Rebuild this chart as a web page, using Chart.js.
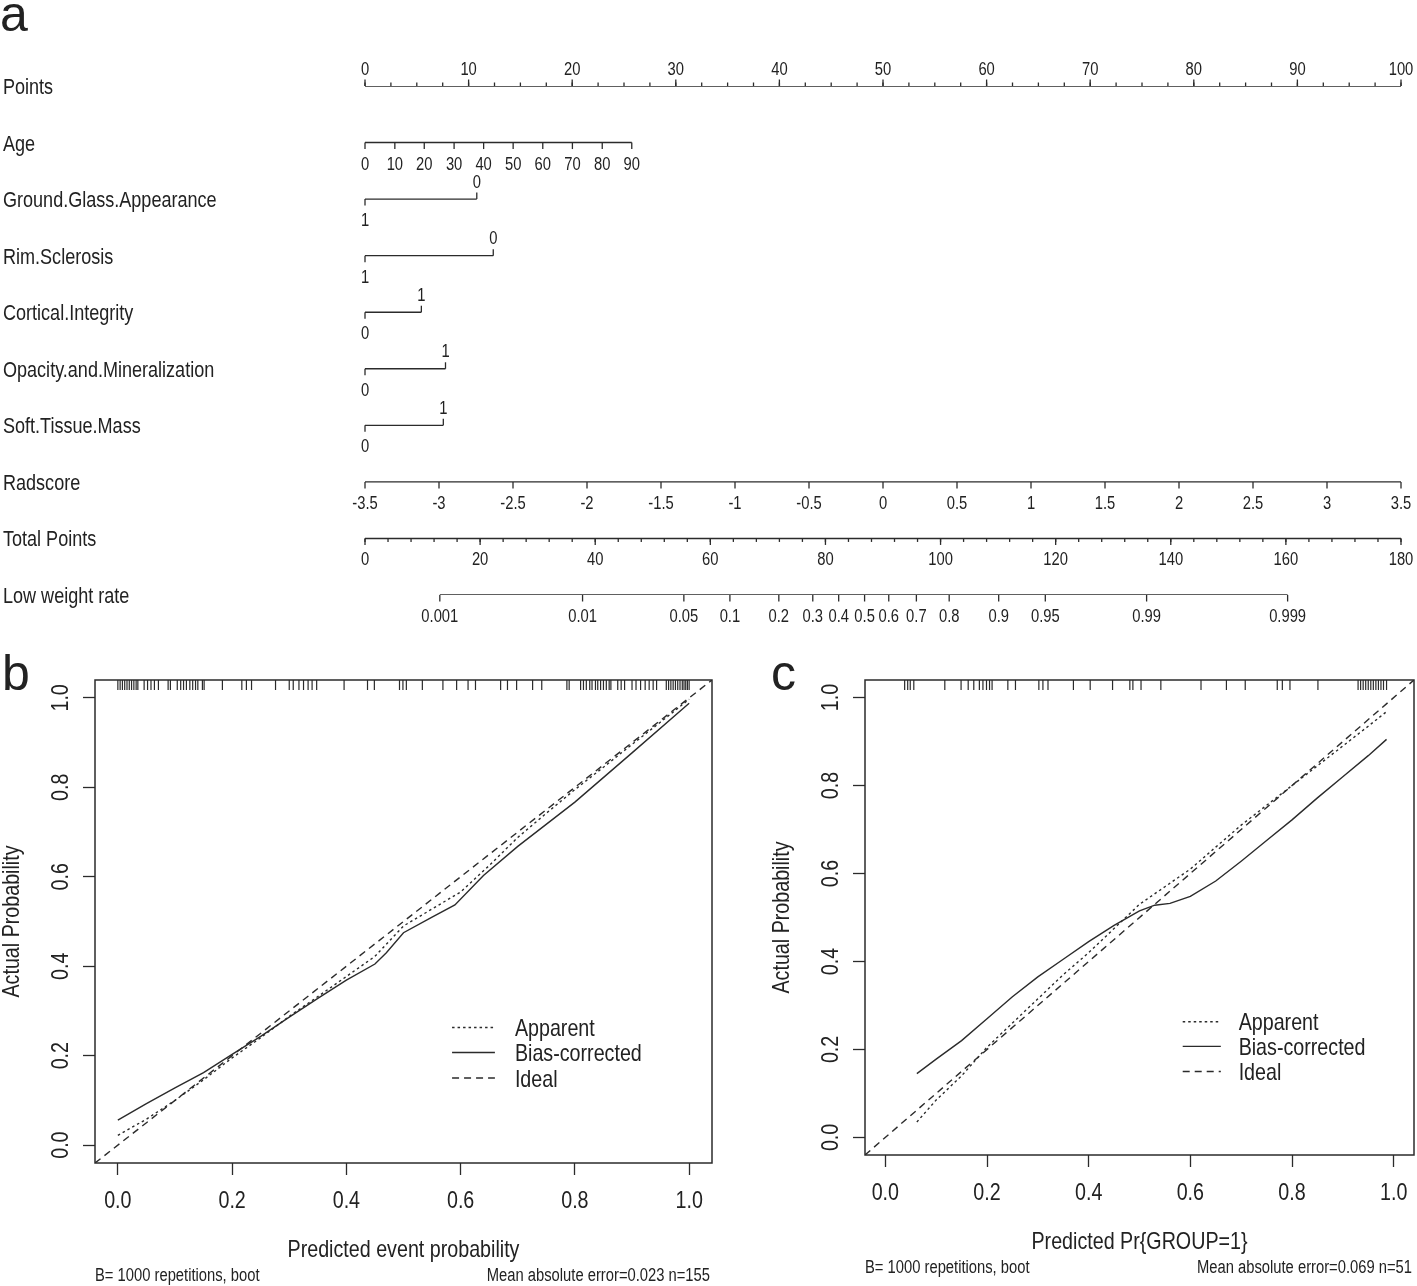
<!DOCTYPE html>
<html>
<head>
<meta charset="utf-8">
<script src="https://cdn.jsdelivr.net/npm/chart.js@4.4.1/dist/chart.umd.min.js"></script>
<style>
  html, body { margin: 0; padding: 0; background: #fff; }
  #fig { position: relative; width: 1417px; height: 1286px; overflow: hidden; background: #fff; }
  canvas { position: absolute; }
</style>
</head>
<body>
<div id="fig">
  <canvas id="nomo" width="1417" height="650" style="left:0;top:0"></canvas>
  <canvas id="calB" width="720" height="636" style="left:0;top:650px"></canvas>
  <canvas id="calC" width="657" height="636" style="left:760px;top:650px"></canvas>
</div>
<script>
// ---------- panel a: nomogram ----------
const rowNames = ['Points', 'Age', 'Ground.Glass.Appearance', 'Rim.Sclerosis', 'Cortical.Integrity',
  'Opacity.and.Mineralization', 'Soft.Tissue.Mass', 'Radscore', 'Total Points', 'Low weight rate'];

const pointsLabels = ['0', '10', '20', '30', '40', '50', '60', '70', '80', '90', '100'];
const pointsValues = [0, 10, 20, 30, 40, 50, 60, 70, 80, 90, 100];
const ageLabels = ['0', '10', '20', '30', '40', '50', '60', '70', '80', '90'];
const agePoints = [0, 2.88, 5.72, 8.6, 11.45, 14.3, 17.16, 20.02, 22.9, 25.75];
const ggaLabels = ['1', '0'];
const ggaPoints = [0, 10.79];
const rimLabels = ['1', '0'];
const rimPoints = [0, 12.38];
const cortLabels = ['0', '1'];
const cortPoints = [0, 5.44];
const opacLabels = ['0', '1'];
const opacPoints = [0, 7.77];
const softLabels = ['0', '1'];
const softPoints = [0, 7.56];
const radLabels = ['-3.5', '-3', '-2.5', '-2', '-1.5', '-1', '-0.5', '0', '0.5', '1', '1.5', '2', '2.5', '3', '3.5'];
const radValues = [-3.5, -3, -2.5, -2, -1.5, -1, -0.5, 0, 0.5, 1, 1.5, 2, 2.5, 3, 3.5];
const totalLabels = ['0', '20', '40', '60', '80', '100', '120', '140', '160', '180'];
const totalValues = [0, 20, 40, 60, 80, 100, 120, 140, 160, 180];
const riskLabels = ['0.001', '0.01', '0.05', '0.1', '0.2', '0.3', '0.4', '0.5', '0.6', '0.7', '0.8', '0.9', '0.95', '0.99', '0.999'];
const riskTotals = [13.0, 37.8, 55.4, 63.4, 71.9, 77.8, 82.3, 86.8, 91.0, 95.8, 101.5, 110.1, 118.2, 135.8, 160.3];

// ---------- panels b, c: calibration ----------
const probTicks = [0, 0.2, 0.4, 0.6, 0.8, 1.0];
const idealLine = [-0.04, 1.04];

const bAppX = [0, 0.05, 0.1, 0.15, 0.2, 0.25, 0.3, 0.35, 0.4, 0.45, 0.5, 0.55, 0.6, 0.65, 0.7, 0.75, 0.8, 0.85, 0.9, 0.95, 1.0];
const bAppY = [0.022, 0.058, 0.1, 0.146, 0.195, 0.24, 0.288, 0.332, 0.377, 0.422, 0.49, 0.528, 0.566, 0.625, 0.688, 0.742, 0.795, 0.845, 0.896, 0.946, 0.997];
const bBiasX = [0, 0.05, 0.1, 0.15, 0.2, 0.25, 0.3, 0.35, 0.4, 0.45, 0.47, 0.5, 0.55, 0.59, 0.64, 0.7, 0.8, 0.9, 1.0];
const bBiasY = [0.056, 0.093, 0.128, 0.162, 0.203, 0.243, 0.286, 0.328, 0.369, 0.405, 0.43, 0.475, 0.51, 0.537, 0.603, 0.668, 0.767, 0.877, 0.988];
const bRug = [0, 0.004, 0.008, 0.012, 0.016, 0.02, 0.024, 0.028, 0.032, 0.035, 0.046, 0.052, 0.058, 0.064, 0.071,
  0.088, 0.092, 0.104, 0.11, 0.115, 0.12, 0.126, 0.131, 0.136, 0.14, 0.148, 0.151, 0.183, 0.217, 0.225, 0.234,
  0.276, 0.3, 0.307, 0.317, 0.325, 0.333, 0.34, 0.348, 0.396, 0.437, 0.449, 0.493, 0.499, 0.505, 0.533, 0.569,
  0.593, 0.613, 0.626, 0.67, 0.682, 0.698, 0.726, 0.742, 0.786, 0.79, 0.81, 0.815, 0.82, 0.826, 0.83, 0.836,
  0.84, 0.845, 0.85, 0.855, 0.86, 0.863, 0.875, 0.881, 0.887, 0.9, 0.907, 0.915, 0.923, 0.93, 0.937, 0.943,
  0.96, 0.964, 0.968, 0.972, 0.976, 0.98, 0.984, 0.988, 0.991, 0.994, 0.997, 1.0];

const cAppX = [0.062, 0.1, 0.15, 0.2, 0.25, 0.3, 0.35, 0.4, 0.45, 0.5, 0.55, 0.6, 0.65, 0.7, 0.75, 0.8, 0.85, 0.9, 0.95, 0.986];
const cAppY = [0.035, 0.085, 0.14, 0.205, 0.26, 0.315, 0.37, 0.42, 0.475, 0.53, 0.57, 0.61, 0.66, 0.71, 0.755, 0.8, 0.845, 0.89, 0.935, 0.968];
const cBiasX = [0.062, 0.1, 0.15, 0.2, 0.25, 0.3, 0.35, 0.4, 0.45, 0.5, 0.53, 0.56, 0.6, 0.65, 0.7, 0.75, 0.8, 0.85, 0.9, 0.95, 0.986];
const cBiasY = [0.145, 0.178, 0.22, 0.27, 0.32, 0.365, 0.405, 0.445, 0.482, 0.515, 0.528, 0.532, 0.548, 0.583, 0.628, 0.675, 0.722, 0.772, 0.82, 0.868, 0.905];
const cRug = [0.038, 0.044, 0.049, 0.056, 0.117, 0.149, 0.163, 0.174, 0.185, 0.192, 0.199, 0.205, 0.21, 0.241, 0.256,
  0.302, 0.31, 0.32, 0.37, 0.403, 0.447, 0.481, 0.487, 0.503, 0.542, 0.621, 0.671, 0.708, 0.771, 0.781, 0.796,
  0.851, 0.93, 0.935, 0.94, 0.945, 0.95, 0.955, 0.96, 0.965, 0.97, 0.975, 0.98, 0.986];

const legendRows = [0.263, 0.207, 0.150];

const INK = '#222';
const LINE = '#2b2b2b';
const PLAIN = "'Liberation Sans', Arial, sans-serif";

// the original uses a condensed Arial; fall back to squeezing Liberation Sans
let NARROW = "'Liberation Sans Narrow', 'Arial Narrow'", SX = 1;
(function () {
  const c = document.createElement('canvas').getContext('2d');
  const s = 'Bias-corrected 0.023';
  c.font = '40px monospace';
  const w1 = c.measureText(s).width;
  c.font = "40px 'Liberation Sans Narrow', monospace";
  const w2 = c.measureText(s).width;
  if (Math.abs(w1 - w2) < 0.5) { NARROW = PLAIN; SX = 0.82; }
})();

function put(ctx, s, x, y, size, align, rot, family, sx) {
  ctx.save();
  ctx.translate(x, y);
  if (rot) ctx.rotate(rot);
  ctx.scale(sx === undefined ? SX : sx, 1);
  ctx.font = size + 'px ' + (family || NARROW);
  ctx.textAlign = align || 'center';
  ctx.textBaseline = 'alphabetic';
  ctx.fillStyle = INK;
  ctx.fillText(s, 0, 0);
  ctx.restore();
}

const rows = [
  { labels: pointsLabels, at: pointsValues, axis: 'x', side: 'up', minorStep: 2.5 },
  { labels: ageLabels, at: agePoints, axis: 'x', side: 'down' },
  { labels: ggaLabels, at: ggaPoints, axis: 'x', side: 'split' },
  { labels: rimLabels, at: rimPoints, axis: 'x', side: 'split' },
  { labels: cortLabels, at: cortPoints, axis: 'x', side: 'split' },
  { labels: opacLabels, at: opacPoints, axis: 'x', side: 'split' },
  { labels: softLabels, at: softPoints, axis: 'x', side: 'split' },
  { labels: radLabels, at: radValues, axis: 'xr', side: 'down' },
  { labels: totalLabels, at: totalValues, axis: 'xt', side: 'down', minorStep: 4 },
  { labels: riskLabels, at: riskTotals, axis: 'xt', side: 'down' }
];

const nomoDecor = {
  id: 'nomoDecor',
  afterDatasetsDraw(chart) {
    const ctx = chart.ctx;
    const ys = chart.scales.y;
    ctx.save();
    ctx.strokeStyle = LINE;
    ctx.lineWidth = 1.3;
    rows.forEach((r, i) => {
      const sc = chart.scales[r.axis];
      const py = ys.getPixelForValue(i);
      const last = r.at[r.at.length - 1];
      const tick = (v, len, dir) => {
        const px = sc.getPixelForValue(v);
        ctx.beginPath();
        ctx.moveTo(px, py);
        ctx.lineTo(px, py + dir * len);
        ctx.stroke();
      };
      if (r.minorStep) {
        for (let v = r.at[0]; v <= last + 1e-9; v += r.minorStep) tick(v, 3.5, r.side === 'up' ? -1 : 1);
      }
      r.at.forEach((v, k) => {
        let dir = r.side === 'up' ? -1 : 1;
        if (r.side === 'split') dir = k === 0 ? 1 : -1;
        tick(v, 6.5, dir);
        put(ctx, r.labels[k], sc.getPixelForValue(v), dir < 0 ? py - 11.5 : py + 27, 18, 'center');
      });
      put(ctx, rowNames[i], 3, py + 8, 22, 'left');
    });
    put(ctx, 'a', 0, 31, 50, 'left', 0, PLAIN, 1);
    ctx.restore();
  }
};

new Chart(document.getElementById('nomo'), {
  type: 'scatter',
  data: {
    datasets: rows.map((r, i) => ({
      data: [{ x: r.at[0], y: i }, { x: r.at[r.at.length - 1], y: i }],
      xAxisID: r.axis,
      yAxisID: 'y',
      showLine: true,
      pointRadius: 0,
      borderColor: LINE,
      borderWidth: 1.4
    }))
  },
  options: {
    responsive: false,
    animation: false,
    devicePixelRatio: 1,
    events: [],
    layout: { padding: { left: 365, right: 16, top: 86, bottom: 55 } },
    plugins: { legend: { display: false }, tooltip: { enabled: false } },
    scales: {
      x: { type: 'linear', min: 0, max: 100, display: false },
      xr: { type: 'linear', axis: 'x', min: -3.5, max: 3.5, display: false },
      xt: { type: 'linear', axis: 'x', min: 0, max: 180, display: false },
      y: { type: 'linear', min: 0, max: 9, reverse: true, display: false }
    }
  },
  plugins: [nomoDecor]
});

// ---------- calibration plots ----------
const calDecor = {
  id: 'calDecor',
  afterDatasetsDraw(chart, args, o) {
    const ctx = chart.ctx, a = chart.chartArea;
    const xs = chart.scales.x, ys = chart.scales.y;
    ctx.save();
    ctx.strokeStyle = LINE;
    ctx.lineWidth = 1.5;
    ctx.strokeRect(a.left, a.top, a.right - a.left, a.bottom - a.top);

    // rug of predicted values along the top edge
    ctx.lineWidth = 1.2;
    o.rug.forEach(v => {
      const px = xs.getPixelForValue(v);
      ctx.beginPath();
      ctx.moveTo(px, a.top);
      ctx.lineTo(px, a.top + 10);
      ctx.stroke();
    });

    probTicks.forEach(v => {
      put(ctx, v.toFixed(1), xs.getPixelForValue(v), a.bottom + 45, 24, 'center');
      put(ctx, v.toFixed(1), a.left - 27, ys.getPixelForValue(v), 24, 'center', -Math.PI / 2);
    });
    put(ctx, o.xTitle, (a.left + a.right) / 2, a.bottom + 94, 24, 'center');
    put(ctx, 'Actual Probability', a.left - 76, (a.top + a.bottom) / 2, 24, 'center', -Math.PI / 2);
    put(ctx, 'B= 1000 repetitions, boot', a.left, a.bottom + 118, 18, 'left');
    put(ctx, o.mae, a.right - 2, a.bottom + 118, 18, 'right');

    // legend
    chart.data.datasets.forEach((ds, k) => {
      const py = ys.getPixelForValue(legendRows[k]);
      ctx.setLineDash(ds.borderDash || []);
      ctx.lineWidth = ds.borderWidth;
      ctx.beginPath();
      ctx.moveTo(xs.getPixelForValue(0.585), py);
      ctx.lineTo(xs.getPixelForValue(0.66), py);
      ctx.stroke();
      ctx.setLineDash([]);
      put(ctx, ds.label, xs.getPixelForValue(0.695), py + 8.5, 24, 'left');
    });

    put(ctx, o.letter, o.letterX, 40, 50, 'left', 0, PLAIN, 1);
    ctx.restore();
  }
};

const pairs = (xs, ys) => xs.map((x, i) => ({ x, y: ys[i] }));

function calChart(id, d) {
  const axis = extra => Object.assign({
    type: 'linear',
    min: -0.04,
    max: 1.04,
    afterBuildTicks: s => { s.ticks = probTicks.map(v => ({ value: v })); },
    ticks: { display: false },
    grid: { display: true, drawOnChartArea: false, drawTicks: true, tickLength: 12, tickWidth: 1.3, tickColor: LINE, color: LINE },
    border: { display: false }
  }, extra);
  const line = { showLine: true, pointRadius: 0, pointHoverRadius: 0, borderColor: LINE, borderWidth: 1.4, fill: false };
  return new Chart(document.getElementById(id), {
    type: 'scatter',
    data: {
      datasets: [
        Object.assign({ label: 'Apparent', data: pairs(d.appX, d.appY), borderDash: [2.5, 3] }, line),
        Object.assign({ label: 'Bias-corrected', data: pairs(d.biasX, d.biasY), borderDash: [] }, line),
        Object.assign({ label: 'Ideal', data: idealLine.map(v => ({ x: v, y: v })), borderDash: [7, 5] }, line)
      ]
    },
    options: {
      responsive: false,
      animation: false,
      devicePixelRatio: 1,
      events: [],
      layout: { padding: { left: 0, top: d.top, right: d.right, bottom: 0 } },
      plugins: {
        legend: { display: false },
        tooltip: { enabled: false },
        calDecor: { rug: d.rug, xTitle: d.xTitle, mae: d.mae, letter: d.letter, letterX: d.letterX }
      },
      scales: {
        x: axis({ position: 'bottom', afterFit: s => { s.height = d.xh; } }),
        y: axis({ position: 'left', afterFit: s => { s.width = d.yw; } })
      }
    },
    plugins: [calDecor]
  });
}

calChart('calB', {
  appX: bAppX, appY: bAppY, biasX: bBiasX, biasY: bBiasY, rug: bRug,
  xTitle: 'Predicted event probability', mae: 'Mean absolute error=0.023 n=155',
  letter: 'b', letterX: 2, top: 30, right: 8, yw: 95, xh: 123
});

calChart('calC', {
  appX: cAppX, appY: cAppY, biasX: cBiasX, biasY: cBiasY, rug: cRug,
  xTitle: 'Predicted Pr{GROUP=1}', mae: 'Mean absolute error=0.069 n=51',
  letter: 'c', letterX: 11, top: 30, right: 3, yw: 105, xh: 131
});
</script>
</body>
</html>
